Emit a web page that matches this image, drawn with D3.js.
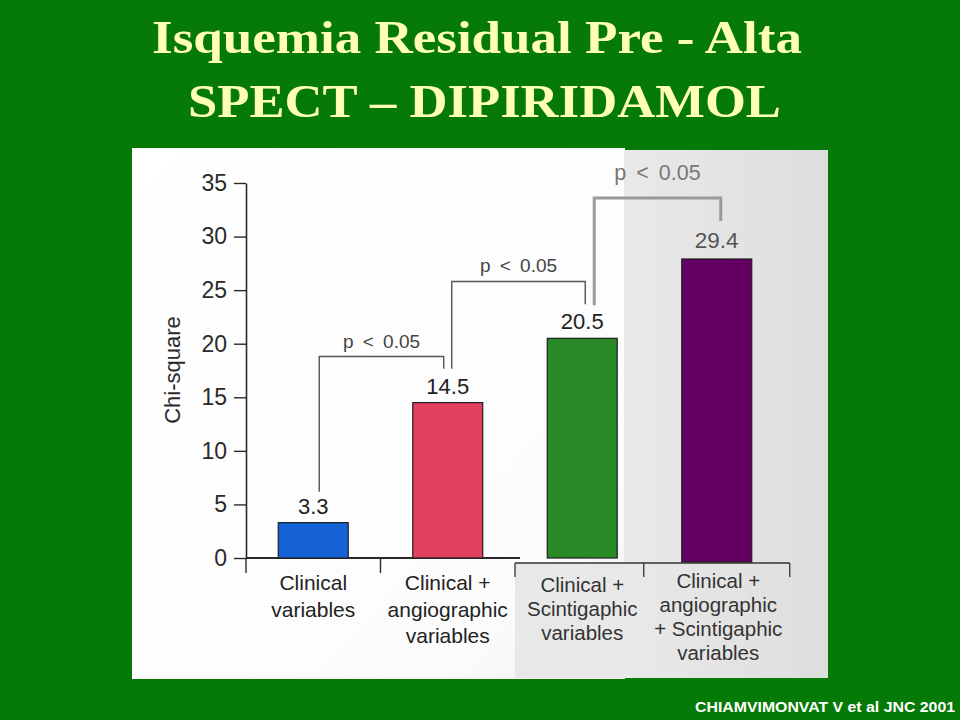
<!DOCTYPE html>
<html>
<head>
<meta charset="utf-8">
<script src="https://cdn.jsdelivr.net/npm/d3@7"></script>
<style>
  html, body { margin: 0; padding: 0; background: #067a06; }
  svg { display: block; }
</style>
</head>
<body>
<svg id="chart" width="960" height="720"></svg>
<script>
// ---- data ----
const titleLines = ["Isquemia Residual Pre - Alta", "SPECT \u2013 DIPIRIDAMOL"];
const categories = [
  ["Clinical", "variables"],
  ["Clinical +", "angiographic", "variables"],
  ["Clinical +", "Scintigaphic", "variables"],
  ["Clinical +", "angiographic", "+ Scintigaphic", "variables"]
];
const values = [3.3, 14.5, 20.5, 29.4];
const valueLabels = ["3.3", "14.5", "20.5", "29.4"];
const barColors = ["#1462d6", "#e2405f", "#2b8a28", "#640064"];
const yTicks = [0, 5, 10, 15, 20, 25, 30, 35];
const comparisons = [
  { from: 0, to: 1, label: "p < 0.05" },
  { from: 1, to: 2, label: "p < 0.05" },
  { from: 2, to: 3, label: "p < 0.05" }
];
const yTitle = "Chi-square";
const source = "CHIAMVIMONVAT V et al JNC 2001";

// ---- drawing ----
const svg = d3.select("#chart");
const FONT = "'Liberation Sans', Arial, Helvetica, sans-serif";

svg.append("rect").attr("width", 960).attr("height", 720).attr("fill", "#067a06");

// title
const titleW = [650, 593];
const titleX = [152, 188];
const titleY = [53, 117];
titleLines.forEach((t, i) => {
  svg.append("text")
    .attr("x", titleX[i]).attr("y", titleY[i])
    .attr("textLength", titleW[i]).attr("lengthAdjust", "spacingAndGlyphs")
    .attr("font-family", "'Liberation Serif', 'Times New Roman', serif")
    .attr("font-weight", "bold").attr("font-size", 47)
    .attr("fill", "#ffffb8")
    .text(t);
});

// panels
const defs = svg.append("defs");
const g1 = defs.append("linearGradient").attr("id", "wgrad").attr("x1", 0).attr("y1", 0).attr("x2", 1).attr("y2", 1);
g1.append("stop").attr("offset", "0%").attr("stop-color", "#ffffff");
g1.append("stop").attr("offset", "80%").attr("stop-color", "#fcfcfc");
g1.append("stop").attr("offset", "100%").attr("stop-color", "#f0f0f0");
svg.append("rect").attr("x", 132).attr("y", 148).attr("width", 493).attr("height", 531).attr("fill", "url(#wgrad)");

const g2 = defs.append("linearGradient").attr("id", "ggrad").attr("x1", 0).attr("y1", 0).attr("x2", 1).attr("y2", 0);
g2.append("stop").attr("offset", "0%").attr("stop-color", "#e9e9e9");
g2.append("stop").attr("offset", "100%").attr("stop-color", "#dedede");
svg.append("rect").attr("x", 624).attr("y", 150).attr("width", 204).attr("height", 528).attr("fill", "url(#ggrad)");
svg.append("rect").attr("x", 515).attr("y", 563).attr("width", 110).attr("height", 115).attr("fill", "#e8e8e8");

// scales
const y = d3.scaleLinear().domain([0, 35]).range([558, 183]);
const yInset = d3.scaleLinear().domain([0, 35]).range([562, 562 - 35 * 10.306]);
const x = d3.scaleBand().domain(d3.range(categories.length)).range([246, 784])
  .paddingInner(0.48).paddingOuter(0.24);
const cx = i => x(i) + x.bandwidth() / 2;
const yFor = i => (i === 3 ? yInset : y);

// y axis
const yAxis = d3.axisLeft(y).tickValues(yTicks).tickSize(12).tickPadding(7).tickSizeOuter(0);
const ga = svg.append("g").attr("transform", "translate(246,0)").call(yAxis);
ga.select(".domain").attr("stroke", "#2a2a2a").attr("stroke-width", 1.6);
ga.selectAll(".tick line").attr("stroke", "#2a2a2a").attr("stroke-width", 1.4);
ga.selectAll(".tick text").attr("font-family", FONT).attr("font-size", 23).attr("fill", "#2a2a2a");

svg.append("text")
  .attr("transform", "translate(180,370) rotate(-90)")
  .attr("text-anchor", "middle")
  .attr("font-family", FONT).attr("font-size", 22).attr("fill", "#2a2a2a")
  .text(yTitle);

// x baseline (main) and ticks
svg.append("line").attr("x1", 246).attr("x2", 520).attr("y1", 558).attr("y2", 558)
  .attr("stroke", "#2a2a2a").attr("stroke-width", 1.8);
[0, 1].forEach(i => {
  const xb = x(i) - x.step() * 0.24;
  svg.append("line").attr("x1", xb).attr("x2", xb).attr("y1", 558).attr("y2", 573)
    .attr("stroke", "#2a2a2a").attr("stroke-width", 1.4);
});
// inset baseline
const inL = 515, inM = cx(3) - 73, inR = cx(3) + 73;
svg.append("line").attr("x1", inL).attr("x2", inR).attr("y1", 563).attr("y2", 563)
  .attr("stroke", "#333").attr("stroke-width", 1.4);
[inL, inM, inR].forEach(xx => {
  svg.append("line").attr("x1", xx).attr("x2", xx).attr("y1", 563).attr("y2", 577)
    .attr("stroke", "#333").attr("stroke-width", 1.3);
});

// bars
values.forEach((v, i) => {
  const s = yFor(i);
  svg.append("rect")
    .attr("x", x(i)).attr("width", x.bandwidth())
    .attr("y", s(v)).attr("height", s(0) - s(v))
    .attr("fill", barColors[i])
    .attr("stroke", "#1e1e1e").attr("stroke-width", 1.2);
  svg.append("text")
    .attr("x", cx(i)).attr("y", s(v) - (i === 3 ? 11 : 9))
    .attr("text-anchor", "middle")
    .attr("font-family", FONT).attr("font-size", i === 3 ? 22.5 : 22)
    .attr("fill", i === 3 ? "#555" : "#222")
    .text(valueLabels[i]);
});

// category labels
categories.forEach((lines, i) => {
  const inset = i >= 2;
  const base = inset ? (i === 3 ? 588 : 592) : 590;
  const lh = inset ? 24 : 26.5;
  lines.forEach((t, k) => {
    svg.append("text")
      .attr("x", cx(i) + (i === 3 ? 1.5 : 0)).attr("y", base + k * lh)
      .attr("text-anchor", "middle")
      .attr("font-family", FONT).attr("font-size", inset ? 20.5 : 21)
      .attr("fill", inset ? "#333" : "#222")
      .text(t);
  });
});

// significance brackets
function bracket(x1, y1, x2, y2, top, color, width, label, labelSize, labelY, labelColor) {
  svg.append("path")
    .attr("d", `M${x1},${y1}V${top}H${x2}V${y2}`)
    .attr("fill", "none").attr("stroke", color).attr("stroke-width", width);
  svg.append("text")
    .attr("x", (x1 + x2) / 2).attr("y", labelY)
    .attr("text-anchor", "middle")
    .attr("font-family", FONT).attr("font-size", labelSize)
    .attr("fill", labelColor)
    .attr("word-spacing", 4)
    .text(label);
}
const c0 = comparisons[0], c1 = comparisons[1], c2 = comparisons[2];
bracket(cx(c0.from) + 6, y(values[c0.from]) - 31, cx(c0.to) - 4, y(values[c0.to]) - 34,
  y(18.8), "#555", 1.4, c0.label, 19, y(18.8) - 9, "#444");
bracket(cx(c1.from) + 4, y(values[c1.from]) - 34, cx(c1.to) + 3, y(values[c1.to]) - 34,
  y(25.8), "#555", 1.4, c1.label, 19, y(25.8) - 10, "#444");
bracket(cx(c2.from) + 12, y(values[c2.from]) - 33, cx(c2.to) + 4, yInset(values[c2.to]) - 38,
  y(33.6), "#9a9a9a", 3, c2.label, 21.5, y(33.6) - 18, "#777");

// source
svg.append("text")
  .attr("x", 955).attr("y", 712).attr("text-anchor", "end")
  .attr("textLength", 260).attr("lengthAdjust", "spacingAndGlyphs")
  .attr("font-family", FONT).attr("font-weight", "bold").attr("font-size", 15.5)
  .attr("fill", "#ffffff")
  .text(source);
</script>
</body>
</html>
